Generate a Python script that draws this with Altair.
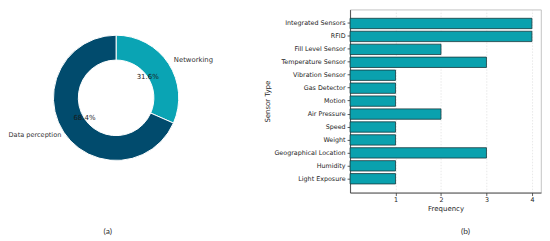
import altair as alt
import pandas as pd

# ---- data ----
pie_labels = ["Networking", "Data perception"]
pie_values = [31.6, 68.4]
pie_colors = ["#0aa4b4", "#014b6d"]

sensor_types = ["Integrated Sensors", "RFID", "Fill Level Sensor", "Temperature Sensor",
                "Vibration Sensor", "Gas Detector", "Motion", "Air Pressure", "Speed",
                "Weight", "Geographical Location", "Humidity", "Light Exposure"]
frequencies = [4, 4, 2, 3, 1, 1, 1, 2, 1, 1, 3, 1, 1]
freq_ticks = [1, 2, 3, 4]
captions = ["(a)", "(b)"]

total = sum(pie_values)
pie_df = pd.DataFrame({
    "part": pie_labels,
    "value": pie_values,
    "order": list(range(len(pie_labels))),
    "pct": [f"{v:.1f}%" for v in pie_values],
})
bar_df = pd.DataFrame({"sensor": sensor_types, "freq": frequencies})

CX, CY = 108.7, 88.7
R_OUT, R_IN = 63, 38
theta_scale = alt.Scale(domain=[0, total])

ring = alt.Chart(pie_df).mark_arc(
    outerRadius=R_OUT, innerRadius=R_IN, stroke="white", strokeWidth=1
).encode(
    theta=alt.Theta("value:Q", stack=True, scale=theta_scale),
    order=alt.Order("order:Q"),
    color=alt.Color("part:N", scale=alt.Scale(domain=pie_labels, range=pie_colors), legend=None),
    x=alt.value(CX), y=alt.value(CY),
)

mid_base = alt.Chart(pie_df).transform_window(
    cum="sum(value)", sort=[alt.SortField("order")]
).transform_calculate(mid="datum.cum - datum.value / 2")

pct_text = mid_base.mark_text(
    radius=R_IN, font="DejaVu Sans", fontSize=7, color="#1a1a1a", align="center", baseline="middle"
).encode(
    theta=alt.Theta("mid:Q", stack=False, scale=theta_scale),
    text="pct:N", x=alt.value(CX), y=alt.value(CY),
)

lbl_right = mid_base.transform_filter(alt.datum.part == pie_labels[0]).mark_text(
    radius=R_OUT * 1.1, font="DejaVu Sans", fontSize=6.9, color="#333333", align="left", baseline="middle"
).encode(
    theta=alt.Theta("mid:Q", stack=False, scale=theta_scale),
    text="part:N", x=alt.value(CX), y=alt.value(CY),
)

lbl_left = mid_base.transform_filter(alt.datum.part == pie_labels[1]).mark_text(
    radius=R_OUT * 1.1, font="DejaVu Sans", fontSize=6.6, color="#333333", align="right",
    baseline="middle", dx=3
).encode(
    theta=alt.Theta("mid:Q", stack=False, scale=theta_scale),
    text="part:N", x=alt.value(CX), y=alt.value(CY),
)

cap_a = alt.Chart(pd.DataFrame({"c": [captions[0]]})).mark_text(
    font="Lato", fontSize=8.5, color="#333333", align="center", baseline="middle"
).encode(text="c:N", x=alt.value(100.3), y=alt.value(223))

left = alt.layer(ring, pct_text, lbl_right, lbl_left, cap_a).properties(
    width=240, height=184, view=alt.ViewBackground(stroke=None)
)

bars = alt.Chart(bar_df).mark_bar(
    color="#0aa1ae", stroke="#17393d", strokeWidth=0.8
).encode(
    y=alt.Y("sensor:N", sort=sensor_types,
            scale=alt.Scale(paddingInner=0.2, paddingOuter=0.67),
            axis=alt.Axis(title="Sensor Type", titlePadding=3, labelPadding=2)),
    x=alt.X("freq:Q", scale=alt.Scale(domain=[0, 4.2], nice=False),
            axis=alt.Axis(values=freq_ticks, title="Frequency", grid=True,
                          gridDash=[1.5, 1.5], gridColor="#d8d8d8", gridWidth=0.6,
                          labelPadding=1, titlePadding=2)),
)

cap_b = alt.Chart(pd.DataFrame({"c": [captions[1]]})).mark_text(
    font="Lato", fontSize=8.5, color="#333333", align="center", baseline="middle"
).encode(text="c:N", x=alt.value(116), y=alt.value(223))

right = alt.layer(bars, cap_b).properties(
    width=192, height=184, view=alt.ViewBackground(stroke="#b5b5b5", strokeWidth=0.8)
)

chart = alt.hconcat(left, right, spacing=104, bounds="flush").properties(
    padding=0, background="white"
).configure_axis(
    labelFont="DejaVu Sans", labelFontSize=6.4, labelColor="#262626",
    titleFont="DejaVu Sans", titleFontSize=7, titleFontWeight="normal", titleColor="#262626",
    tickSize=3, tickColor="#333333", tickWidth=0.8,
    domainColor="#333333", domainWidth=0.8,
).configure_axisY(grid=False)

chart.save("out.html", embed_options={"renderer": "svg", "actions": False})
